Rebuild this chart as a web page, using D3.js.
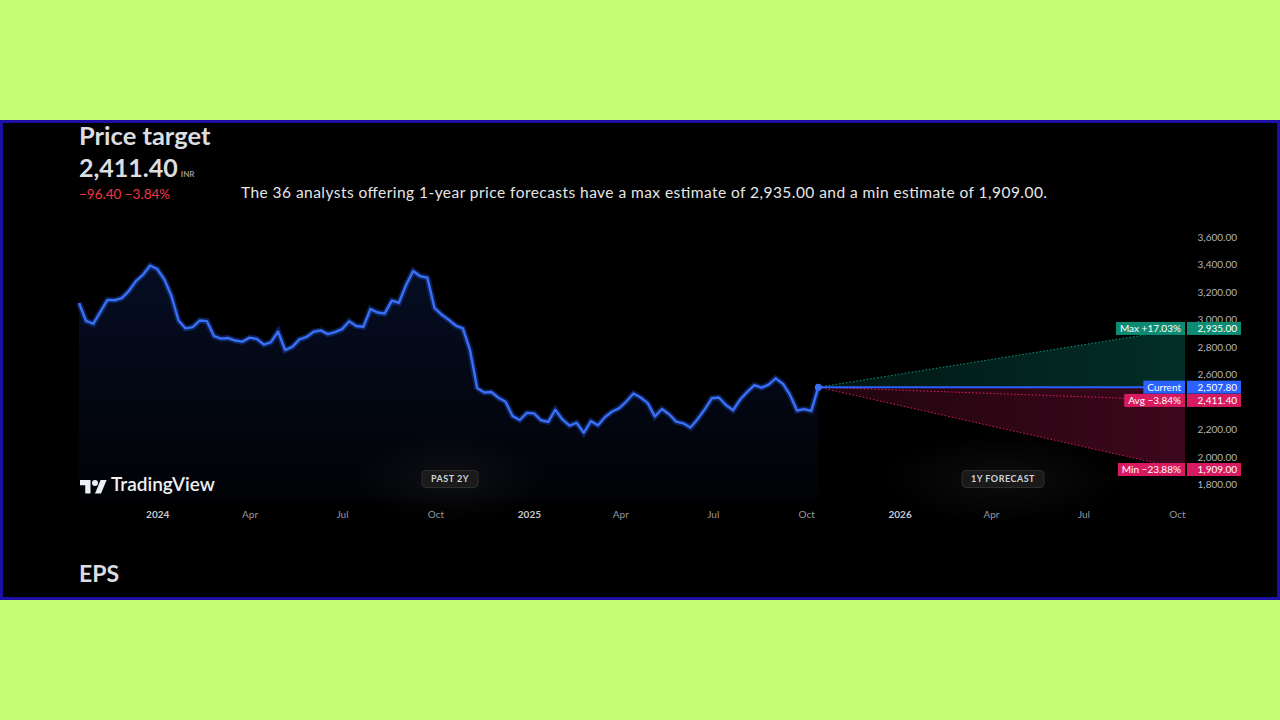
<!DOCTYPE html>
<html>
<head>
<meta charset="utf-8">
<script src="https://cdn.jsdelivr.net/npm/d3@7/dist/d3.min.js"></script>
<style>
  html, body { margin: 0; padding: 0; background: #c5fe73; }
  svg { display: block; font-family: Lato, "Noto Sans", sans-serif; }
</style>
</head>
<body>
<div id="chart"></div>
<script>
// weekly closes (INR), first week starts 16 Oct 2023
const weekStart = new Date(2023, 9, 16);
const prices = [
  3120, 2990, 2969, 3055, 3143, 3140, 3156, 3207, 3279, 3326,
  3393, 3367, 3293, 3173, 2993, 2935, 2945, 2993, 2988, 2879,
  2861, 2865, 2847, 2839, 2868, 2859, 2818, 2835, 2913, 2778,
  2801, 2855, 2873, 2911, 2921, 2894, 2908, 2930, 2987, 2953,
  2947, 3076, 3051, 3044, 3137, 3122, 3251, 3353, 3315, 3305,
  3085, 3036, 2998, 2956, 2935, 2778, 2502, 2469, 2473, 2431,
  2402, 2297, 2269, 2321, 2317, 2267, 2255, 2344, 2273, 2228,
  2249, 2176, 2261, 2231, 2291, 2331, 2356, 2405, 2462, 2433,
  2392, 2295, 2349, 2311, 2257, 2245, 2214, 2275, 2345, 2427,
  2433, 2378, 2340, 2418, 2474, 2522, 2504, 2527, 2572, 2533,
  2453, 2338, 2348, 2335, 2507.8
];

const currentPrice = 2507.8;
const forecastEnd = new Date(2026, 9, 9);
const targetNames = ['Max', 'Avg', 'Min'];
const targetValues = [2935.00, 2411.40, 1909.00];
const yTicks = [1800, 2000, 2200, 2400, 2600, 2800, 3000, 3200, 3400, 3600];
const xTickDates = d3.timeMonth.every(3).range(new Date(2024, 0, 1), new Date(2026, 10, 1));
const monthNames = ['Jan', 'Feb', 'Mar', 'Apr', 'May', 'Jun', 'Jul', 'Aug', 'Sep', 'Oct', 'Nov', 'Dec'];

const W = 1280, H = 720;
const plotLeft = 79, plotRight = 1185, plotBottom = 500;

const data = prices.map((v, i) => ({ date: d3.timeWeek.offset(weekStart, i), value: v }));
const last = data[data.length - 1];

const svg = d3.select('#chart').append('svg')
  .attr('width', W)
  .attr('height', H);

const defs = svg.append('defs');

// panel
svg.append('rect')
  .attr('x', 1.5).attr('y', 121.5)
  .attr('width', W - 3).attr('height', 477)
  .attr('fill', '#000')
  .attr('stroke', '#1b10a3')
  .attr('stroke-width', 3);

const x = d3.scaleTime()
  .domain([weekStart, forecastEnd])
  .range([plotLeft, plotRight]);

const y = d3.scaleLinear()
  .domain([1800, 3600])
  .range([484.5, 237]);

// gradients
const areaGrad = defs.append('linearGradient')
  .attr('id', 'areaGrad').attr('x1', 0).attr('x2', 0).attr('y1', 0).attr('y2', 1);
areaGrad.append('stop').attr('offset', '0%').attr('stop-color', '#2962ff').attr('stop-opacity', 0.14);
areaGrad.append('stop').attr('offset', '100%').attr('stop-color', '#2962ff').attr('stop-opacity', 0.02);

const greenGrad = defs.append('linearGradient').attr('id', 'greenGrad');
greenGrad.append('stop').attr('offset', '0%').attr('stop-color', '#089981').attr('stop-opacity', 0.15);
greenGrad.append('stop').attr('offset', '100%').attr('stop-color', '#089981').attr('stop-opacity', 0.3);

const redGrad = defs.append('linearGradient').attr('id', 'redGrad');
redGrad.append('stop').attr('offset', '0%').attr('stop-color', '#d81b60').attr('stop-opacity', 0.15);
redGrad.append('stop').attr('offset', '100%').attr('stop-color', '#d81b60').attr('stop-opacity', 0.28);

const glow = defs.append('radialGradient').attr('id', 'glow');
glow.append('stop').attr('offset', '0%').attr('stop-color', '#fff').attr('stop-opacity', 0.05);
glow.append('stop').attr('offset', '100%').attr('stop-color', '#fff').attr('stop-opacity', 0);

// past area + line
const area = d3.area()
  .x(d => x(d.date))
  .y0(plotBottom)
  .y1(d => y(d.value));

svg.append('path')
  .datum(data)
  .attr('d', area)
  .attr('fill', 'url(#areaGrad)');

const line = d3.line()
  .x(d => x(d.date))
  .y(d => y(d.value));

svg.append('path')
  .datum(data)
  .attr('d', line)
  .attr('fill', 'none')
  .attr('stroke', '#2962ff')
  .attr('stroke-opacity', 0.3)
  .attr('stroke-width', 6);

svg.append('path')
  .datum(data)
  .attr('d', line)
  .attr('fill', 'none')
  .attr('stroke', '#3a6ff7')
  .attr('stroke-width', 2.4)
  .attr('stroke-linejoin', 'round');

// forecast cones
const x0 = x(last.date), x1 = x(forecastEnd);
const yCur = y(currentPrice);
const yMax = y(targetValues[0]), yAvg = y(targetValues[1]), yMin = y(targetValues[2]);

svg.append('path')
  .attr('d', `M${x0},${yCur}L${x1},${yMax}L${x1},${yCur}Z`)
  .attr('fill', 'url(#greenGrad)');
svg.append('path')
  .attr('d', `M${x0},${yCur}L${x1},${yCur}L${x1},${yMin}Z`)
  .attr('fill', 'url(#redGrad)');

svg.append('line')
  .attr('x1', x0).attr('y1', yCur).attr('x2', x1).attr('y2', yMax)
  .attr('stroke', '#089981').attr('stroke-width', 1).attr('stroke-dasharray', '1.5,2');
svg.append('line')
  .attr('x1', x0).attr('y1', yCur).attr('x2', x1).attr('y2', yMin)
  .attr('stroke', '#d81b60').attr('stroke-width', 1).attr('stroke-dasharray', '1.5,2');
svg.append('line')
  .attr('x1', x0).attr('y1', yCur).attr('x2', x1).attr('y2', yAvg)
  .attr('stroke', '#e91e63').attr('stroke-width', 1).attr('stroke-dasharray', '1.5,2');
svg.append('line')
  .attr('x1', x0).attr('y1', yCur).attr('x2', x1).attr('y2', yCur)
  .attr('stroke', '#2962ff').attr('stroke-width', 2);

svg.append('circle')
  .attr('cx', x0).attr('cy', yCur).attr('r', 3.5)
  .attr('fill', '#3a6ff7');

// y labels (3,000 and 2,400 are partly or fully hidden behind badges)
svg.append('g')
  .selectAll('text')
  .data(yTicks)
  .join('text')
  .attr('x', 1237)
  .attr('y', d => y(d))
  .attr('dy', '0.35em')
  .attr('text-anchor', 'end')
  .attr('fill', '#b2b5be')
  .style('font-size', '10px')
  .text(d => d3.format(',.2f')(d));

// badges
const fmt = d3.format(',.2f');
const pct = v => {
  const p = (v / currentPrice - 1) * 100;
  return (p >= 0 ? '+' : '\u2212') + Math.abs(p).toFixed(2) + '%';
};
const badges = [
  { label: targetNames[0] + ' ' + pct(targetValues[0]), value: targetValues[0], color: '#0e8c73' },
  { label: 'Current', value: currentPrice, color: '#2962ff' },
  { label: targetNames[1] + ' ' + pct(targetValues[1]), value: targetValues[1], color: '#d81b60' },
  { label: targetNames[2] + ' ' + pct(targetValues[2]), value: targetValues[2], color: '#d81b60' }
];

badges.forEach(b => {
  const g = svg.append('g').attr('transform', `translate(0,${y(b.value)})`);
  g.append('rect')
    .attr('x', 1187).attr('y', -6.5).attr('width', 54).attr('height', 13)
    .attr('fill', b.color);
  g.append('text')
    .attr('x', 1237).attr('dy', '0.35em').attr('text-anchor', 'end')
    .attr('fill', '#fff').style('font-size', '10px')
    .text(fmt(b.value));
  const lbl = g.append('text')
    .attr('x', 1181).attr('dy', '0.35em').attr('text-anchor', 'end')
    .attr('fill', '#fff').style('font-size', '10px')
    .text(b.label);
  const w = lbl.node().getComputedTextLength() + 8;
  g.insert('rect', 'text')
    .attr('x', 1185 - w).attr('y', -6.5).attr('width', w).attr('height', 13)
    .attr('fill', b.color);
});

// x axis
const xAxis = svg.append('g')
  .attr('transform', 'translate(0,508)')
  .call(d3.axisBottom(x)
    .tickValues(xTickDates)
    .tickSize(0)
    .tickFormat(d => d.getMonth() === 0 ? d.getFullYear() : monthNames[d.getMonth()]));
xAxis.select('.domain').remove();
xAxis.selectAll('text')
  .style('font-family', 'Lato, sans-serif')
  .style('font-size', '10px')
  .style('font-weight', d => d.getMonth() === 0 ? 700 : 400)
  .attr('fill', d => d.getMonth() === 0 ? '#c8cbd3' : '#9598a1');

// period badges
[{ t: 'PAST 2Y', cx: 450, w: 56 }, { t: '1Y FORECAST', cx: 1003, w: 82 }].forEach(p => {
  svg.append('ellipse')
    .attr('cx', p.cx).attr('cy', 479).attr('rx', p.w + 40).attr('ry', 45)
    .attr('fill', 'url(#glow)');
  svg.append('rect')
    .attr('x', p.cx - p.w / 2).attr('y', 470.5).attr('width', p.w).attr('height', 17)
    .attr('rx', 4)
    .attr('fill', '#1a1a1a').attr('stroke', '#2e2e2e');
  svg.append('text')
    .attr('x', p.cx).attr('y', 479).attr('dy', '0.35em')
    .attr('text-anchor', 'middle')
    .attr('fill', '#d1d4dc')
    .style('font-size', '9px').style('font-weight', 700)
    .style('letter-spacing', '0.5px')
    .text(p.t);
});

// TradingView logo
svg.append('path')
  .attr('transform', 'translate(80,477) scale(0.75)')
  .attr('d', 'M14 22H7V11H0V4h14v18zM28 22h-8l7.5-18h8L28 22z')
  .attr('fill', '#eceff4');
svg.append('circle')
  .attr('cx', 80 + 20 * 0.75).attr('cy', 477 + 8 * 0.75).attr('r', 4 * 0.75)
  .attr('fill', '#eceff4');
svg.append('text')
  .attr('x', 111).attr('y', 491)
  .attr('fill', '#eceff4')
  .style('font-size', '19px').style('font-weight', 600)
  .text('TradingView');

// header texts
svg.append('text')
  .attr('x', 79).attr('y', 145)
  .attr('fill', '#dcdde0')
  .style('font-size', '25.5px').style('font-weight', 700)
  .text('Price target');

const big = svg.append('text')
  .attr('x', 79).attr('y', 177)
  .attr('fill', '#dcdde0')
  .style('font-size', '25px').style('font-weight', 700);
big.append('tspan').text(fmt(targetValues[1]));
big.append('tspan').attr('dx', 3).style('font-size', '8px').attr('fill', '#9598a1').text('INR');

svg.append('text')
  .attr('x', 79).attr('y', 199)
  .attr('fill', '#f23645')
  .style('font-size', '13.5px')
  .text('\u221296.40  \u22123.84%');

svg.append('text')
  .attr('x', 241).attr('y', 198)
  .attr('fill', '#e6e6e6')
  .style('font-size', '15.5px')
  .attr('textLength', 806)
  .attr('lengthAdjust', 'spacing')
  .text('The 36 analysts offering 1-year price forecasts have a max estimate of 2,935.00 and a min estimate of 1,909.00.');

svg.append('text')
  .attr('x', 79).attr('y', 582)
  .attr('fill', '#dcdde0')
  .style('font-size', '23px').style('font-weight', 700)
  .text('EPS');
</script>
</body>
</html>
